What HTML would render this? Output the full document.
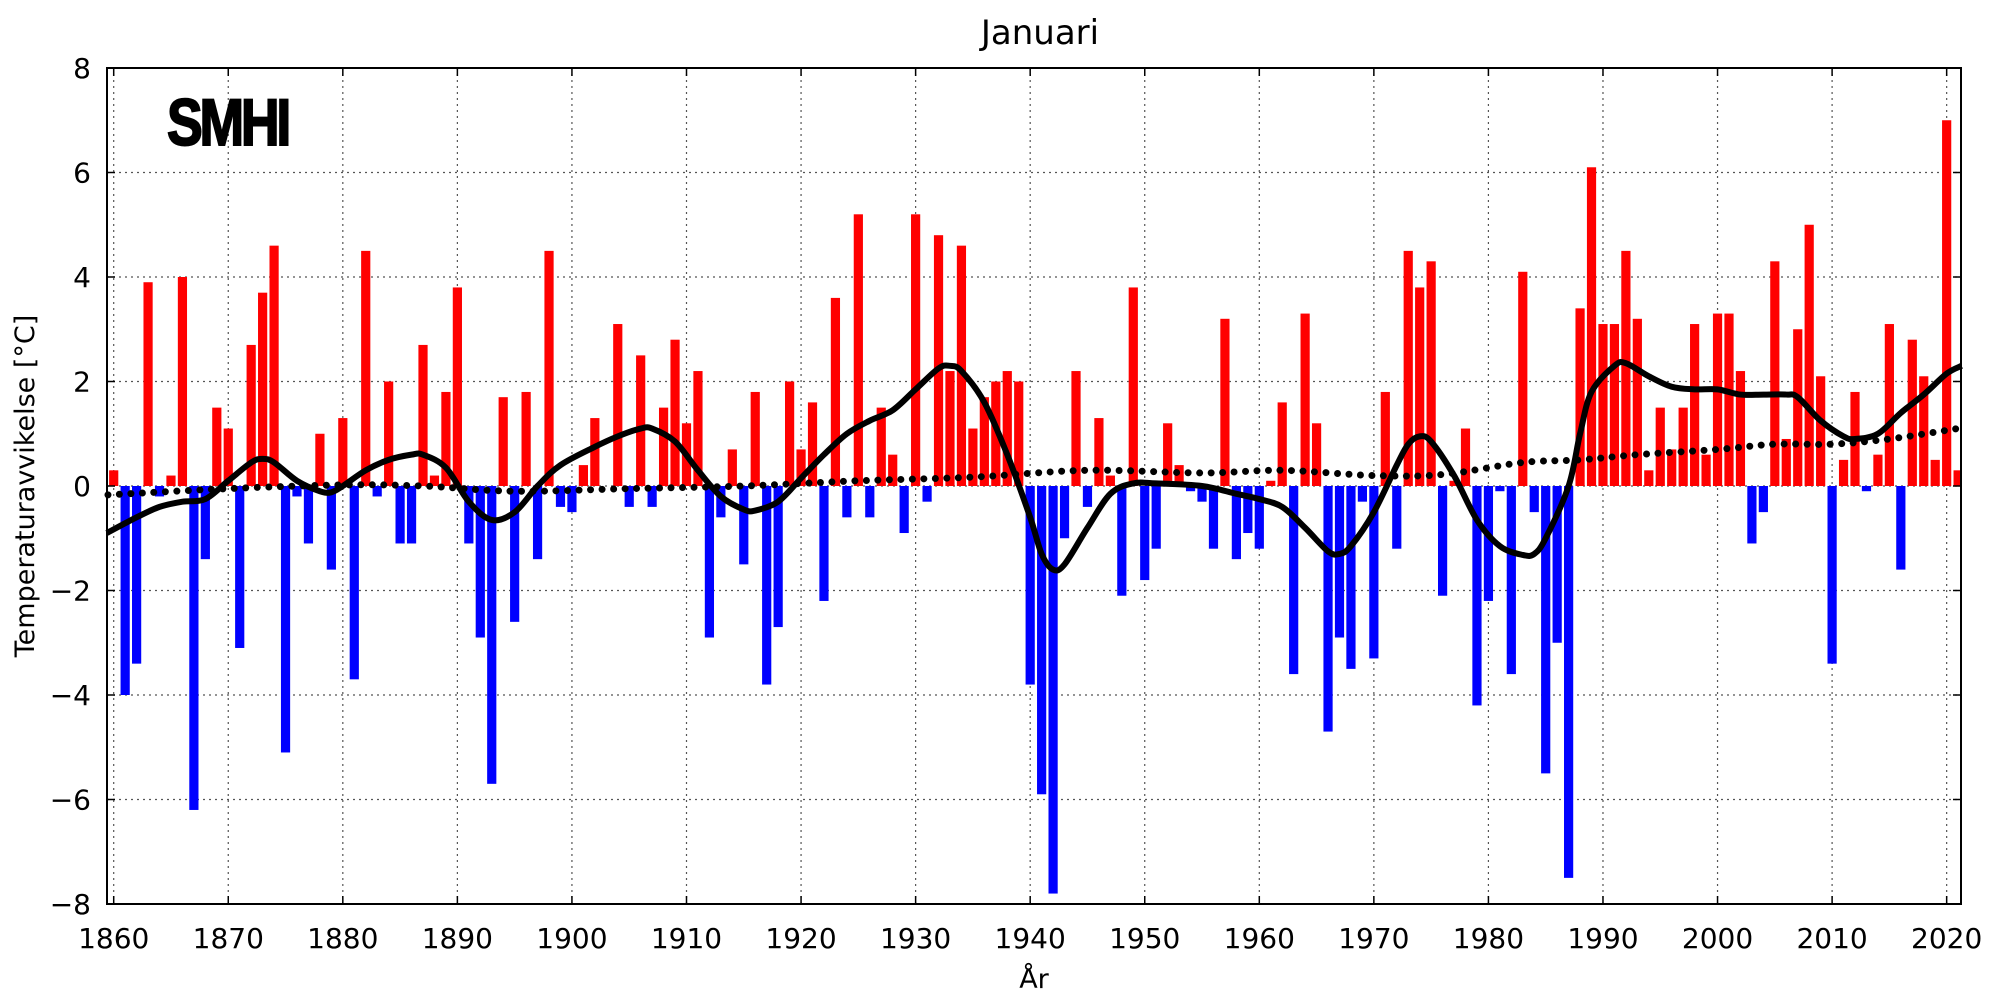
<!DOCTYPE html>
<html><head><meta charset="utf-8"><style>
html,body{margin:0;padding:0;background:#fff;width:2000px;height:1000px;overflow:hidden}
svg text{font-family:"DejaVu Sans","Liberation Sans",sans-serif;fill:#000}
</style></head><body>
<svg id="s" width="2000" height="1000" xmlns="http://www.w3.org/2000/svg">
<rect width="2000" height="1000" fill="#fff"/>
<g id="grid"></g>
<g id="bars"></g>
<g id="lines"></g>
<rect x="107" y="68" width="1854" height="836" fill="none" stroke="#000" stroke-width="2"/>
<g id="ticks"></g>
<text x="1040" y="44" font-size="34" text-anchor="middle">Januari</text>
<text x="1034" y="988" font-size="27" text-anchor="middle">År</text>
<text transform="translate(34,486) rotate(-90)" font-size="27" text-anchor="middle">Temperaturavvikelse [°C]</text>
<text x="167" y="145" font-size="66" font-weight="bold" textLength="121" lengthAdjust="spacingAndGlyphs" stroke="#000" stroke-width="2" style="font-family:'Liberation Sans',sans-serif;letter-spacing:-4px">SMHI</text>
</svg>
<script>
const L=107,R=1961,T=68,B=904;
const X=y=>113.7+(y-1860)*11.456;
const Y=v=>486-v*52.25;
const ns="http://www.w3.org/2000/svg";
function el(p,t,a,txt){const e=document.createElementNS(ns,t);for(const k in a)e.setAttribute(k,a[k]);if(txt!==undefined)e.textContent=txt;document.getElementById(p).appendChild(e);return e;}
for(let yr=1860;yr<=2020;yr+=10){const x=X(yr);
 el("grid","line",{x1:x,x2:x,y1:T,y2:B,stroke:"#555","stroke-width":1.2,"stroke-dasharray":"2 4"});
 el("ticks","line",{x1:x,x2:x,y1:B,y2:B-8,stroke:"#000","stroke-width":1.5});
 el("ticks","line",{x1:x,x2:x,y1:T,y2:T+8,stroke:"#000","stroke-width":1.5});
 el("ticks","text",{x:x,y:948,"font-size":28,"text-anchor":"middle"},String(yr));}
for(let v=-8;v<=8;v+=2){const y=Y(v);
 if(v>-8&&v<8)el("grid","line",{x1:L,x2:R,y1:y,y2:y,stroke:"#555","stroke-width":1.2,"stroke-dasharray":"2 4"});
 el("ticks","line",{x1:L,x2:L+8,y1:y,y2:y,stroke:"#000","stroke-width":1.5});
 el("ticks","line",{x1:R,x2:R-8,y1:y,y2:y,stroke:"#000","stroke-width":1.5});
 el("ticks","text",{x:91,y:y+10,"font-size":28,"text-anchor":"end"},(v<0?"\u2212":"")+Math.abs(v));}
const d=[0.3,-4.0,-3.4,3.9,-0.2,0.2,4.0,-6.2,-1.4,1.5,
1.1,-3.1,2.7,3.7,4.6,-5.1,-0.2,-1.1,1.0,-1.6,
1.3,-3.7,4.5,-0.2,2.0,-1.1,-1.1,2.7,0.2,1.8,
3.8,-1.1,-2.9,-5.7,1.7,-2.6,1.8,-1.4,4.5,-0.4,
-0.5,0.4,1.3,0.0,3.1,-0.4,2.5,-0.4,1.5,2.8,
1.2,2.2,-2.9,-0.6,0.7,-1.5,1.8,-3.8,-2.7,2.0,
0.7,1.6,-2.2,3.6,-0.6,5.2,-0.6,1.5,0.6,-0.9,
5.2,-0.3,4.8,2.2,4.6,1.1,1.7,2.0,2.2,2.0,
-3.8,-5.9,-7.8,-1.0,2.2,-0.4,1.3,0.2,-2.1,3.8,
-1.8,-1.2,1.2,0.4,-0.1,-0.3,-1.2,3.2,-1.4,-0.9,
-1.2,0.1,1.6,-3.6,3.3,1.2,-4.7,-2.9,-3.5,-0.3,
-3.3,1.8,-1.2,4.5,3.8,4.3,-2.1,0.1,1.1,-4.2,
-2.2,-0.1,-3.6,4.1,-0.5,-5.5,-3.0,-7.5,3.4,6.1,
3.1,3.1,4.5,3.2,0.3,1.5,0.7,1.5,3.1,0.6,
3.3,3.3,2.2,-1.1,-0.5,4.3,0.9,3.0,5.0,2.1,
-3.4,0.5,1.8,-0.1,0.6,3.1,-1.6,2.8,2.1,0.5,
7.0,0.3];
d.forEach((v,i)=>{const yr=1860+i;let x=X(yr)-4.6,w=9.2;if(x<L+1){w-= (L+1-x);x=L+1;}if(x+w>R-1)w=R-1-x;
 const y0=Y(0),y1=Y(v);el("bars","rect",{x:x,y:Math.min(y0,y1),width:w,height:Math.abs(y1-y0),fill:v>=0?"#ff0000":"#0000ff"});});
function smooth(pts){let s="M"+X(pts[0][0])+","+Y(pts[0][1]);
 const P=pts.map(p=>[X(p[0]),Y(p[1])]);
 for(let i=0;i<P.length-1;i++){const p0=P[i-1]||P[i],p1=P[i],p2=P[i+1],p3=P[i+2]||P[i+1];
 s+=" C"+(p1[0]+(p2[0]-p0[0])/6)+","+(p1[1]+(p2[1]-p0[1])/6)+" "+(p2[0]-(p3[0]-p1[0])/6)+","+(p2[1]-(p3[1]-p1[1])/6)+" "+p2[0]+","+p2[1];}
 return s;}
const tr=[[1859.5,-0.17],[1870,-0.05],[1880,0.02],[1887,0.0],[1895,-0.1],[1905,-0.05],[1915,0.0],[1925,0.1],[1935,0.17],[1945,0.3],[1955,0.25],[1962,0.3],[1970,0.2],[1976,0.22],[1983,0.45],[1988,0.5],[1993,0.6],[2000,0.7],[2005,0.8],[2010,0.8],[2015,0.9],[2021,1.1]];
el("lines","path",{d:smooth(tr),fill:"none",stroke:"#000","stroke-width":7,"stroke-linecap":"round","stroke-dasharray":"0 11.5"});
const c=[[1859.4,-0.9],[1862,-0.6],[1864,-0.4],[1866,-0.3],[1868,-0.25],[1870,0.1],[1872,0.45],[1873,0.52],[1874,0.45],[1876,0.1],[1878,-0.1],[1879,-0.12],[1880,0.0],[1882,0.3],[1884,0.5],[1886,0.6],[1887,0.6],[1889,0.35],[1891,-0.3],[1893,-0.65],[1895,-0.5],[1897,0.0],[1899,0.4],[1902,0.75],[1904,0.95],[1906,1.1],[1907,1.1],[1909,0.85],[1911,0.3],[1913,-0.2],[1915,-0.45],[1916,-0.47],[1918,-0.3],[1920,0.15],[1922,0.6],[1924,1.0],[1926,1.25],[1928,1.45],[1930,1.85],[1932,2.25],[1933,2.3],[1934,2.2],[1936,1.6],[1938,0.6],[1940,-0.6],[1941,-1.3],[1942,-1.6],[1943,-1.5],[1945,-0.8],[1947,-0.15],[1949,0.05],[1951,0.05],[1955,0.0],[1958,-0.15],[1960,-0.25],[1962,-0.4],[1964,-0.8],[1966,-1.25],[1967,-1.3],[1968,-1.15],[1970,-0.5],[1972,0.4],[1973,0.8],[1974,0.95],[1975,0.85],[1977,0.2],[1979,-0.65],[1981,-1.15],[1983,-1.32],[1984,-1.3],[1985,-1.0],[1987,0.0],[1988,1.0],[1989,1.8],[1991,2.3],[1992,2.35],[1994,2.1],[1996,1.9],[1998,1.85],[2000,1.85],[2002,1.75],[2004,1.75],[2006,1.75],[2007,1.7],[2009,1.25],[2011,0.95],[2012,0.9],[2014,1.0],[2016,1.4],[2018,1.75],[2020,2.15],[2021.3,2.3]];
el("lines","path",{d:smooth(c),fill:"none",stroke:"#000","stroke-width":6,"stroke-linejoin":"round"});
</script>
</body></html>
